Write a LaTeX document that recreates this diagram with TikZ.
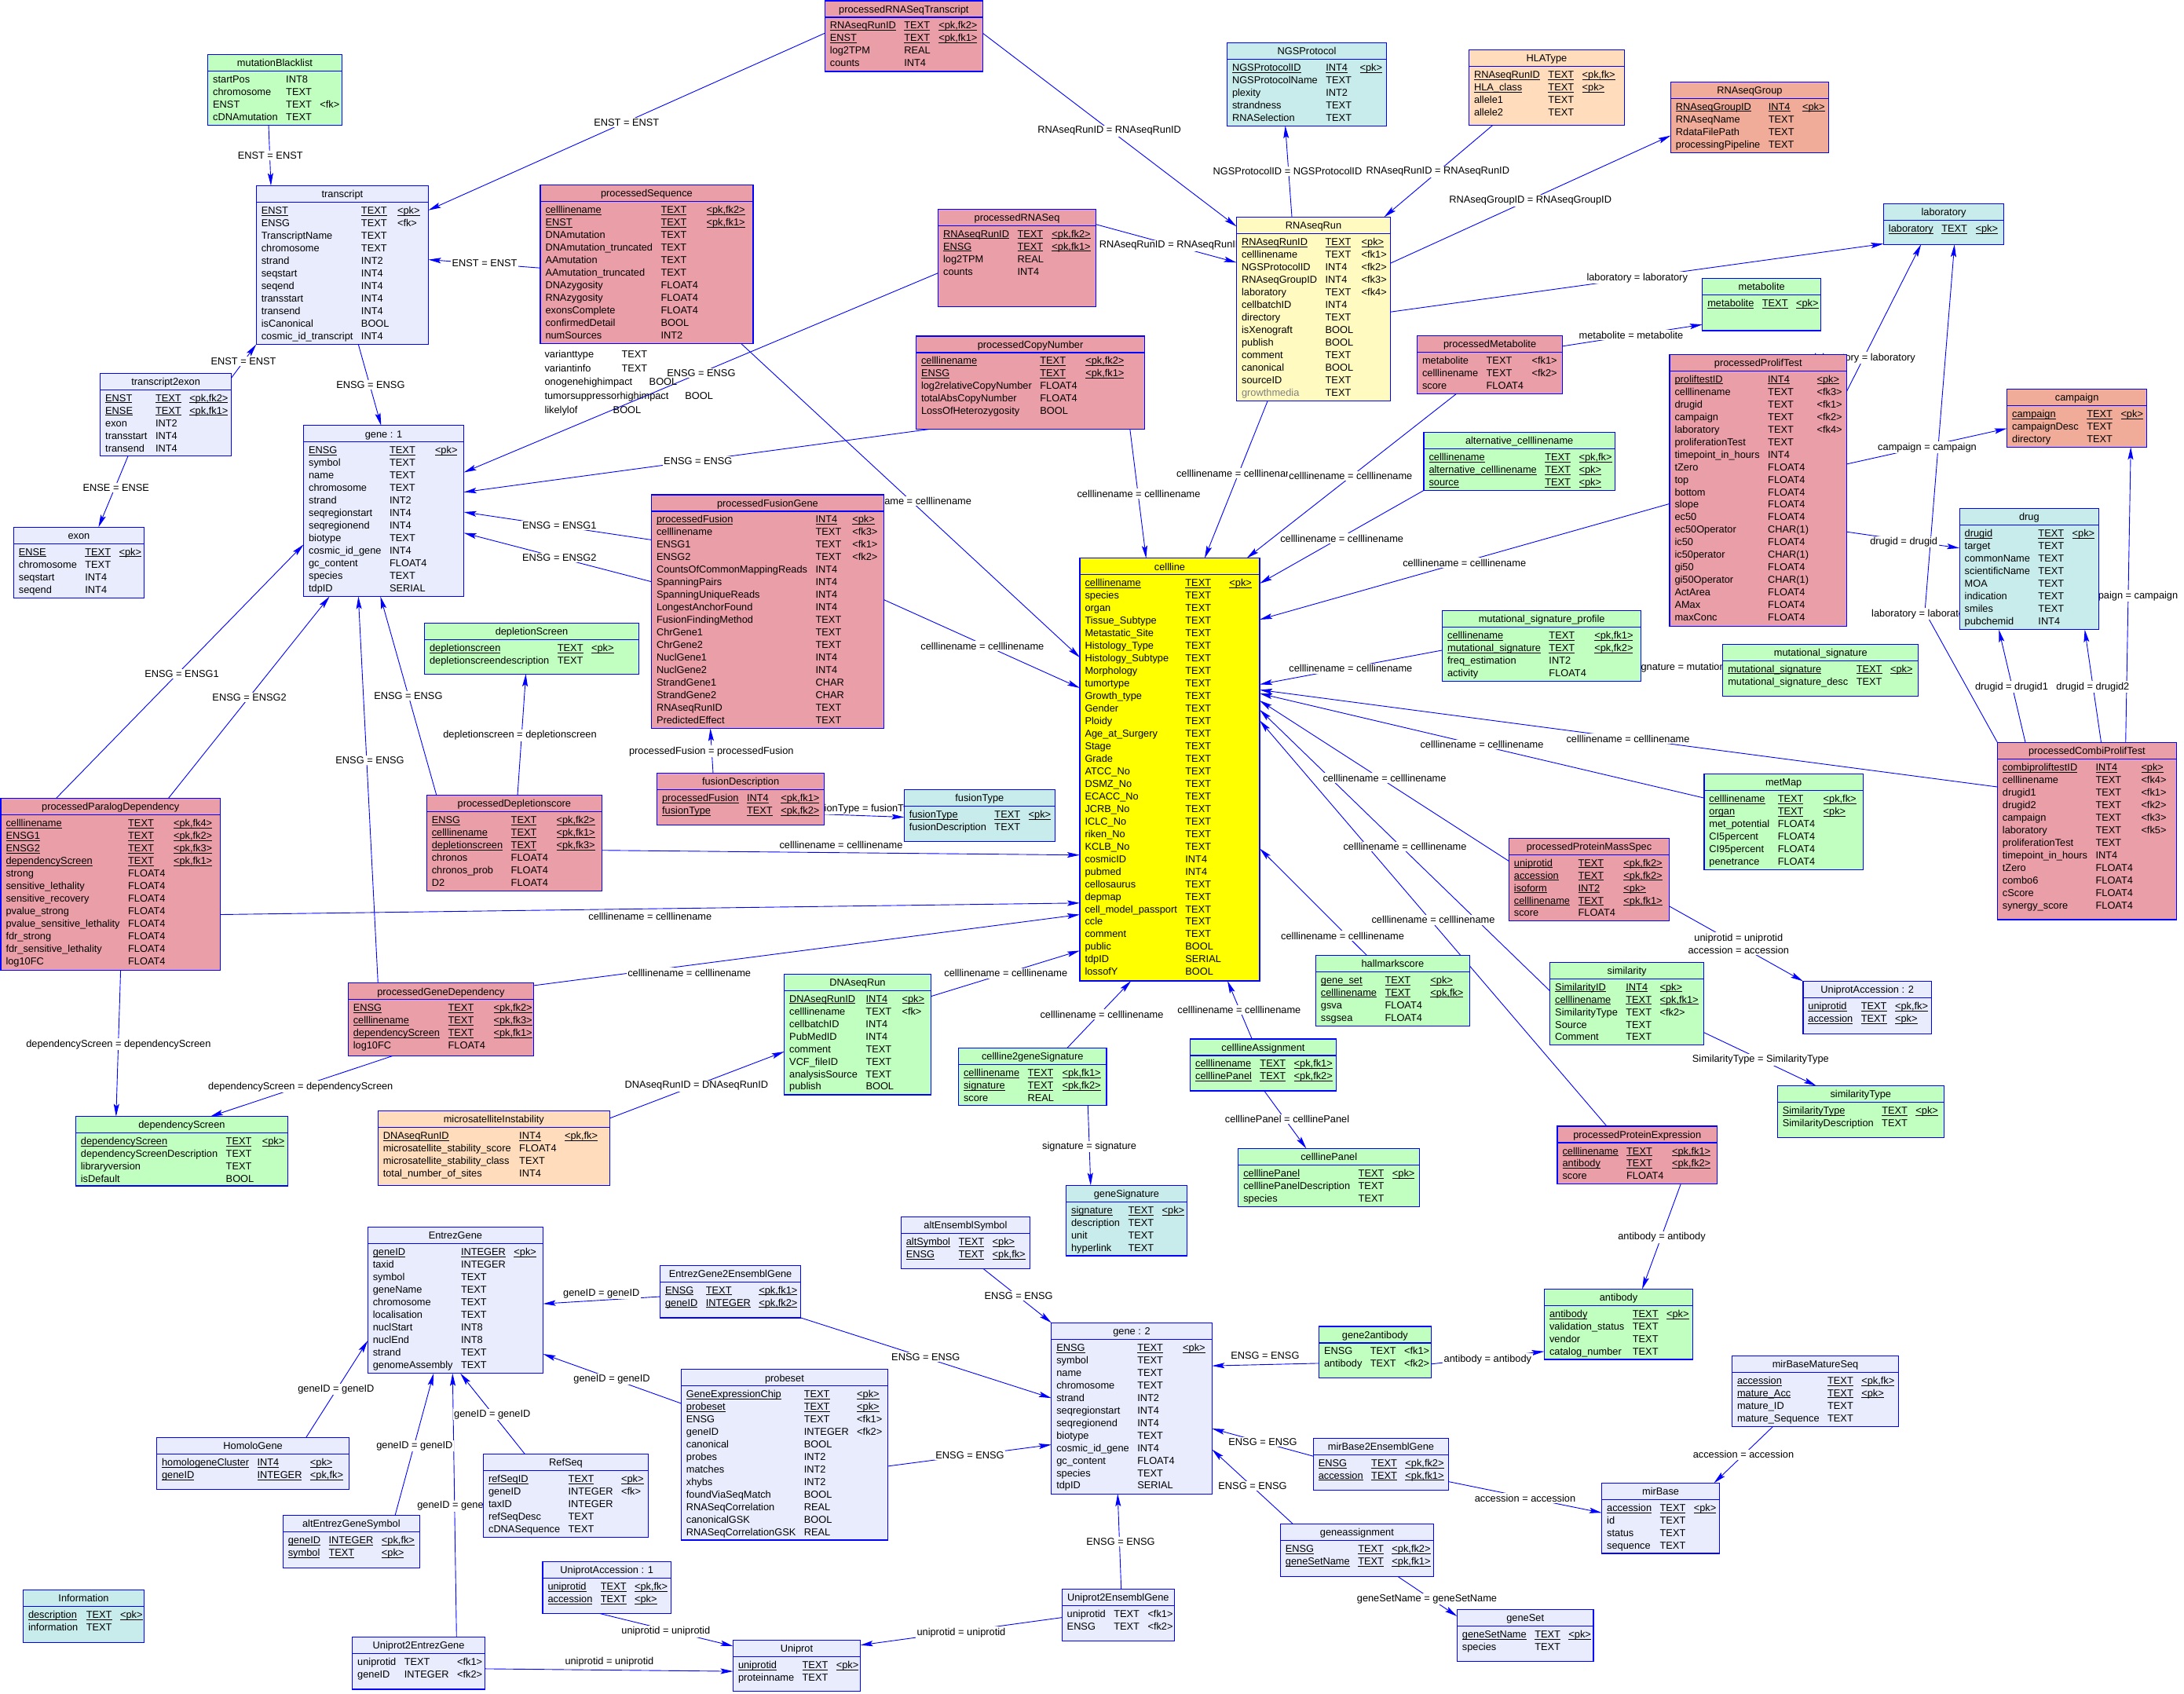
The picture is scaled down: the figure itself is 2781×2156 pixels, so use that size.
\documentclass[tikz,border=0pt]{standalone}
\usepackage{fontspec}
\setmainfont{Liberation Sans}
\usetikzlibrary{arrows.meta}
\definecolor{cLav}{RGB}{232,236,252}
\definecolor{cGrn}{RGB}{192,255,192}
\definecolor{cPnk}{RGB}{234,158,168}
\definecolor{cCyn}{RGB}{200,236,236}
\definecolor{cPch}{RGB}{255,220,188}
\definecolor{cSal}{RGB}{240,172,152}
\definecolor{cLYl}{RGB}{255,250,192}
\definecolor{cYel}{RGB}{255,255,0}
\definecolor{cBlu}{RGB}{0,0,255}
\pgfdeclarelayer{back}\pgfdeclarelayer{bg}\pgfdeclarelayer{lab}
\pgfsetlayers{back,bg,lab,main}
\newcommand\tfnt{\fontsize{12.8}{15.97}\selectfont}
\newcommand\uu[1]{\setbox0=\hbox{#1}\rlap{\rule[-2pt]{\wd0}{0.8pt}}\box0}
\newcommand\pkr[3]{\uu{#1}&\uu{#2}&\uu{#3}}
\newcommand\generows{\pkr{ENSG}{TEXT}{<pk>}\\symbol&TEXT&\\name&TEXT&\\chromosome&TEXT&\\strand&INT2&\\seqregionstart&INT4&\\seqregionend&INT4&\\biotype&TEXT&\\cosmic\_id\_gene&INT4&\\gc\_content&FLOAT4&\\species&TEXT&\\tdpID&SERIAL&}
\newcommand\mktbl[8]{%
 \node[tbox,fill=#6,minimum width={(#4-#2)*1pt},minimum height={(#5-#3)*1pt}] (#1) at (#2,#3) {};
 \draw[tline] ([yshift=-21pt]#1.north west) -- ([yshift=-21pt]#1.north east);
 \node[tfont,anchor=base] (#1-h) at ([yshift=-15.3pt]#1.north) {#7};
 \node[tfont,anchor=north west,inner sep=0pt] (#1-r) at ([xshift=6.3pt,yshift=-24.6pt]#1.north west) {\begin{tabular}{@{}l@{\hspace{10.5pt}}l@{\hspace{10.5pt}}l@{}}#8\end{tabular}};}
\newcommand\mklbl[4]{\node[lbl] (#1) at (#2,#3+4.6) {#4};}
\begin{document}
\begin{tikzpicture}[x=1pt,y=-1pt,
 tfont/.style={font=\tfnt},
 tbox/.style={draw=cBlu,line width=1.2pt,anchor=north west,outer sep=0pt,inner sep=0pt},
 tline/.style={draw=cBlu,line width=1.2pt},
 fk/.style={draw=cBlu,line width=0.9pt,-{Stealth[length=16pt,width=7pt,inset=3pt]}},
 lbl/.style={font=\tfnt,fill=white,inner sep=1.5pt,anchor=base},
 lbl2/.style={font=\tfnt,fill=white,inner sep=1.5pt,align=center,anchor=center}]
\useasboundingbox (0,0) rectangle (2781,2156);
\begin{pgfonlayer}{back}\fill[white] (0,0) rectangle (2781,2156);\end{pgfonlayer}
% ---------------- tables
\mktbl{mutBl}{264.7}{69.3}{435.3}{159.3}{cGrn}{mutationBlacklist}{startPos&INT8&\\chromosome&TEXT&\\ENST&TEXT&<fk>\\cDNAmutation&TEXT&}
\mktbl{transcript}{326.3}{236.5}{545.5}{438.5}{cLav}{transcript}{\pkr{ENST}{TEXT}{<pk>}\\ENSG&TEXT&<fk>\\TranscriptName&TEXT&\\chromosome&TEXT&\\strand&INT2&\\seqstart&INT4&\\seqend&INT4&\\transstart&INT4&\\transend&INT4&\\isCanonical&BOOL&\\cosmic\_id\_transcript&INT4&}
\mktbl{t2e}{127.7}{475.2}{294.6}{580.8}{cLav}{transcript2exon}{\pkr{ENST}{TEXT}{<pk,fk2>}\\\pkr{ENSE}{TEXT}{<pk,fk1>}\\exon&INT2&\\transstart&INT4&\\transend&INT4&}
\mktbl{exon}{17.4}{671.3}{183.5}{761.3}{cLav}{exon}{\pkr{ENSE}{TEXT}{<pk>}\\chromosome&TEXT&\\seqstart&INT4&\\seqend&INT4&}
\mktbl{gene1}{386.6}{541.8}{590.6}{759.5}{cLav}{gene : 1}{\generows}
\mktbl{pRST}{1050.4}{1}{1251.3}{90.9}{cPnk}{processedRNASeqTranscript}{\pkr{RNAseqRunID}{TEXT}{<pk,fk2>}\\\pkr{ENST}{TEXT}{<pk,fk1>}\\log2TPM&REAL&\\counts&INT4&}
\mktbl{pSeq}{688}{235.5}{958.9}{437.1}{cPnk}{processedSequence}{\pkr{celllinename}{TEXT}{<pk,fk2>}\\\pkr{ENST}{TEXT}{<pk,fk1>}\\DNAmutation&TEXT&\\DNAmutation\_truncated&TEXT&\\AAmutation&TEXT&\\AAmutation\_truncated&TEXT&\\DNAzygosity&FLOAT4&\\RNAzygosity&FLOAT4&\\exonsComplete&FLOAT4&\\confirmedDetail&BOOL&\\numSources&INT2&}
\mktbl{pRNASeq}{1194.6}{266.3}{1395.5}{390.3}{cPnk}{processedRNASeq}{\pkr{RNAseqRunID}{TEXT}{<pk,fk2>}\\\pkr{ENSG}{TEXT}{<pk,fk1>}\\log2TPM&REAL&\\counts&INT4&}
\mktbl{pCN}{1166.5}{427.9}{1457.6}{546.4}{cPnk}{processedCopyNumber}{\pkr{celllinename}{TEXT}{<pk,fk2>}\\\pkr{ENSG}{TEXT}{<pk,fk1>}\\log2relativeCopyNumber&FLOAT4&\\totalAbsCopyNumber&FLOAT4&\\LossOfHeterozygosity&BOOL&}
\mktbl{pFG}{829.5}{630}{1125.4}{927.5}{cPnk}{processedFusionGene}{\pkr{processedFusion}{INT4}{<pk>}\\celllinename&TEXT&<fk3>\\ENSG1&TEXT&<fk1>\\ENSG2&TEXT&<fk2>\\CountsOfCommonMappingReads&INT4&\\SpanningPairs&INT4&\\SpanningUniqueReads&INT4&\\LongestAnchorFound&INT4&\\FusionFindingMethod&TEXT&\\ChrGene1&TEXT&\\ChrGene2&TEXT&\\NuclGene1&INT4&\\NuclGene2&INT4&\\StrandGene1&CHAR&\\StrandGene2&CHAR&\\RNAseqRunID&TEXT&\\PredictedEffect&TEXT&}
\mktbl{NGS}{1562.5}{54.6}{1765.6}{160.2}{cCyn}{NGSProtocol}{\pkr{NGSProtocolID}{INT4}{<pk>}\\NGSProtocolName&TEXT&\\plexity&INT2&\\strandness&TEXT&\\RNASelection&TEXT&}
\mktbl{HLA}{1870.5}{63.4}{2068.3}{159.3}{cPch}{HLAType}{\pkr{RNAseqRunID}{TEXT}{<pk,fk>}\\\pkr{HLA\_class}{TEXT}{<pk>}\\allele1&TEXT&\\allele2&TEXT&}
\mktbl{RR}{1574.6}{276.4}{1770.5}{510.1}{cLYl}{RNAseqRun}{\pkr{RNAseqRunID}{TEXT}{<pk>}\\celllinename&TEXT&<fk1>\\NGSProtocolID&INT4&<fk2>\\RNAseqGroupID&INT4&<fk3>\\laboratory&TEXT&<fk4>\\cellbatchID&INT4&\\directory&TEXT&\\isXenograft&BOOL&\\publish&BOOL&\\comment&TEXT&\\canonical&BOOL&\\sourceID&TEXT&\\\textcolor{gray}{growthmedia}&TEXT&}
\mktbl{pMet}{1804.5}{427.5}{1989.7}{501.4}{cPnk}{processedMetabolite}{metabolite&TEXT&<fk1>\\celllinename&TEXT&<fk2>\\score&FLOAT4&}
\mktbl{altCL}{1813}{550.5}{2056.3}{624.4}{cGrn}{alternative\_celllinename}{\pkr{celllinename}{TEXT}{<pk,fk>}\\\pkr{alternative\_celllinename}{TEXT}{<pk>}\\\pkr{source}{TEXT}{<pk>}}
\mktbl{RNAseqGroup}{2127.4}{104.2}{2328.4}{194.2}{cSal}{RNAseqGroup}{\pkr{RNAseqGroupID}{INT4}{<pk>}\\RNAseqName&TEXT&\\RdataFilePath&TEXT&\\processingPipeline&TEXT&}
\mktbl{laboratory}{2398.4}{259.4}{2551.7}{311.3}{cCyn}{laboratory}{\pkr{laboratory}{TEXT}{<pk>}}
\mktbl{metabolite}{2167.8}{354.5}{2318.5}{421}{cGrn}{metabolite}{\pkr{metabolite}{TEXT}{<pk>}}
\mktbl{pPT}{2126}{451.3}{2351.5}{797.1}{cPnk}{processedProlifTest}{\pkr{proliftestID}{INT4}{<pk>}\\celllinename&TEXT&<fk3>\\drugid&TEXT&<fk1>\\campaign&TEXT&<fk2>\\laboratory&TEXT&<fk4>\\proliferationTest&TEXT&\\timepoint\_in\_hours&INT4&\\tZero&FLOAT4&\\top&FLOAT4&\\bottom&FLOAT4&\\slope&FLOAT4&\\ec50&FLOAT4&\\ec50Operator&CHAR(1)&\\ic50&FLOAT4&\\ic50perator&CHAR(1)&\\gi50&FLOAT4&\\gi50Operator&CHAR(1)&\\ActArea&FLOAT4&\\AMax&FLOAT4&\\maxConc&FLOAT4&}
\mktbl{campaign}{2555.6}{495.4}{2733.7}{569.3}{cSal}{campaign}{\pkr{campaign}{TEXT}{<pk>}\\campaignDesc&TEXT&\\directory&TEXT&}
\mktbl{drug}{2495.2}{647.4}{2672.4}{801.7}{cCyn}{drug}{\pkr{drugid}{TEXT}{<pk>}\\target&TEXT&\\commonName&TEXT&\\scientificName&TEXT&\\MOA&TEXT&\\indication&TEXT&\\smiles&TEXT&\\pubchemid&INT4&}
\mktbl{depl}{540.6}{793.5}{813.4}{858.2}{cGrn}{depletionScreen}{\pkr{depletionscreen}{TEXT}{<pk>}\\depletionscreendescription&TEXT&}
\mktbl{pPD}{1}{1016.6}{280.4}{1235.2}{cPnk}{processedParalogDependency}{\pkr{celllinename}{TEXT}{<pk,fk4>}\\\pkr{ENSG1}{TEXT}{<pk,fk2>}\\\pkr{ENSG2}{TEXT}{<pk,fk3>}\\\pkr{dependencyScreen}{TEXT}{<pk,fk1>}\\strong&FLOAT4&\\sensitive\_lethality&FLOAT4&\\sensitive\_recovery&FLOAT4&\\pvalue\_strong&FLOAT4&\\pvalue\_sensitive\_lethality&FLOAT4&\\fdr\_strong&FLOAT4&\\fdr\_sensitive\_lethality&FLOAT4&\\log10FC&FLOAT4&}
\mktbl{pDS}{543.3}{1012.5}{766.5}{1134.6}{cPnk}{processedDepletionscore}{\pkr{ENSG}{TEXT}{<pk,fk2>}\\\pkr{celllinename}{TEXT}{<pk,fk1>}\\\pkr{depletionscreen}{TEXT}{<pk,fk3>}\\chronos&FLOAT4&\\chronos\_prob&FLOAT4&\\D2&FLOAT4&}
\mktbl{pGD}{443.3}{1251.7}{679.5}{1344.5}{cPnk}{processedGeneDependency}{\pkr{ENSG}{TEXT}{<pk,fk2>}\\\pkr{celllinename}{TEXT}{<pk,fk3>}\\\pkr{dependencyScreen}{TEXT}{<pk,fk1>}\\log10FC&FLOAT4&}
\mktbl{depS}{96.4}{1421.6}{366.5}{1509.9}{cGrn}{dependencyScreen}{\pkr{dependencyScreen}{TEXT}{<pk>}\\dependencyScreenDescription&TEXT&\\libraryversion&TEXT&\\isDefault&BOOL&}
\mktbl{msi}{481.3}{1414.3}{776.3}{1509.4}{cPch}{microsatelliteInstability}{\pkr{DNAseqRunID}{INT4}{<pk,fk>}\\microsatellite\_stability\_score&FLOAT4&\\microsatellite\_stability\_class&TEXT&\\total\_number\_of\_sites&INT4&}
\mktbl{fD}{836.6}{984.5}{1049.6}{1050.1}{cPnk}{fusionDescription}{\pkr{processedFusion}{INT4}{<pk,fk1>}\\\pkr{fusionType}{TEXT}{<pk,fk2>}}
\mktbl{fT}{1151.3}{1005.6}{1343.3}{1071.3}{cCyn}{fusionType}{\pkr{fusionType}{TEXT}{<pk>}\\fusionDescription&TEXT&}
\mktbl{DNAseqRun}{998.7}{1240.2}{1185.3}{1394}{cGrn}{DNAseqRun}{\pkr{DNAseqRunID}{INT4}{<pk>}\\celllinename&TEXT&<fk>\\cellbatchID&INT4&\\PubMedID&INT4&\\comment&TEXT&\\VCF\_fileID&TEXT&\\analysisSource&TEXT&\\publish&BOOL&}
\mktbl{c2gS}{1220.5}{1334.4}{1409}{1407.8}{cGrn}{cellline2geneSignature}{\pkr{celllinename}{TEXT}{<pk,fk1>}\\\pkr{signature}{TEXT}{<pk,fk2>}\\score&REAL&}
\mktbl{cellline}{1375}{710.8}{1604}{1249}{cYel}{cellline}{\pkr{celllinename}{TEXT}{<pk>}\\species&TEXT&\\organ&TEXT&\\Tissue\_Subtype&TEXT&\\Metastatic\_Site&TEXT&\\Histology\_Type&TEXT&\\Histology\_Subtype&TEXT&\\Morphology&TEXT&\\tumortype&TEXT&\\Growth\_type&TEXT&\\Gender&TEXT&\\Ploidy&TEXT&\\Age\_at\_Surgery&TEXT&\\Stage&TEXT&\\Grade&TEXT&\\ATCC\_No&TEXT&\\DSMZ\_No&TEXT&\\ECACC\_No&TEXT&\\JCRB\_No&TEXT&\\ICLC\_No&TEXT&\\riken\_No&TEXT&\\KCLB\_No&TEXT&\\cosmicID&INT4&\\pubmed&INT4&\\cellosaurus&TEXT&\\depmap&TEXT&\\cell\_model\_passport&TEXT&\\ccle&TEXT&\\comment&TEXT&\\public&BOOL&\\tdpID&SERIAL&\\lossofY&BOOL&}
\mktbl{mSP}{1836.6}{777.4}{2089.7}{867.4}{cGrn}{mutational\_signature\_profile}{\pkr{celllinename}{TEXT}{<pk,fk1>}\\\pkr{mutational\_signature}{TEXT}{<pk,fk2>}\\freq\_estimation&INT2&\\activity&FLOAT4&}
\mktbl{pPMS}{1921.4}{1067.1}{2125.6}{1172.3}{cPnk}{processedProteinMassSpec}{\pkr{uniprotid}{TEXT}{<pk,fk2>}\\\pkr{accession}{TEXT}{<pk,fk2>}\\\pkr{isoform}{INT2}{<pk>}\\\pkr{celllinename}{TEXT}{<pk,fk1>}\\score&FLOAT4&}
\mktbl{hallmark}{1675.4}{1216.3}{1871.4}{1306.3}{cGrn}{hallmarkscore}{\pkr{gene\_set}{TEXT}{<pk>}\\\pkr{celllinename}{TEXT}{<pk,fk>}\\gsva&FLOAT4&\\ssgsea&FLOAT4&}
\mktbl{similarity}{1973.7}{1225.1}{2169.5}{1330.2}{cGrn}{similarity}{\pkr{SimilarityID}{INT4}{<pk>}\\\pkr{celllinename}{TEXT}{<pk,fk1>}\\SimilarityType&TEXT&<fk2>\\Source&TEXT&\\Comment&TEXT&}
\mktbl{cA}{1515.6}{1322.9}{1701.3}{1389}{cGrn}{celllineAssignment}{\pkr{celllinename}{TEXT}{<pk,fk1>}\\\pkr{celllinePanel}{TEXT}{<pk,fk2>}}
\mktbl{mS}{2193.8}{820.1}{2442.7}{886.2}{cGrn}{mutational\_signature}{\pkr{mutational\_signature}{TEXT}{<pk>}\\mutational\_signature\_desc&TEXT&}
\mktbl{metMap}{2169.9}{985.4}{2372.3}{1107.1}{cGrn}{metMap}{\pkr{celllinename}{TEXT}{<pk,fk>}\\\pkr{organ}{TEXT}{<pk>}\\met\_potential&FLOAT4&\\CI5percent&FLOAT4&\\CI95percent&FLOAT4&\\penetrance&FLOAT4&}
\mktbl{pCPT}{2543.4}{945.4}{2771.4}{1170.9}{cPnk}{processedCombiProlifTest}{\pkr{combiproliftestID}{INT4}{<pk>}\\celllinename&TEXT&<fk4>\\drugid1&TEXT&<fk1>\\drugid2&TEXT&<fk2>\\campaign&TEXT&<fk3>\\laboratory&TEXT&<fk5>\\proliferationTest&TEXT&\\timepoint\_in\_hours&INT4&\\tZero&FLOAT4&\\combo6&FLOAT4&\\cScore&FLOAT4&\\synergy\_score&FLOAT4&}
\mktbl{UA2}{2295.9}{1249.4}{2459.6}{1316.4}{cLav}{UniprotAccession : 2}{\pkr{uniprotid}{TEXT}{<pk,fk>}\\\pkr{accession}{TEXT}{<pk>}}
\mktbl{simType}{2263.3}{1382.6}{2475.2}{1448.2}{cGrn}{similarityType}{\pkr{SimilarityType}{TEXT}{<pk>}\\SimilarityDescription&TEXT&}
\mktbl{EntrezGene}{468.3}{1562.4}{691.5}{1748.7}{cLav}{EntrezGene}{\pkr{geneID}{INTEGER}{<pk>}\\taxid&INTEGER&\\symbol&TEXT&\\geneName&TEXT&\\chromosome&TEXT&\\localisation&TEXT&\\nuclStart&INT8&\\nuclEnd&INT8&\\strand&TEXT&\\genomeAssembly&TEXT&}
\mktbl{HomoloGene}{199.6}{1830.4}{444.6}{1896.2}{cLav}{HomoloGene}{\pkr{homologeneCluster}{INT4}{<pk>}\\\pkr{geneID}{INTEGER}{<pk,fk>}}
\mktbl{altEGS}{360.3}{1929.5}{534.4}{1996.2}{cLav}{altEntrezGeneSymbol}{\pkr{geneID}{INTEGER}{<pk,fk>}\\\pkr{symbol}{TEXT}{<pk>}}
\mktbl{Information}{29.5}{2024.5}{183.5}{2091.1}{cCyn}{Information}{\pkr{description}{TEXT}{<pk>}\\information&TEXT&}
\mktbl{U2EG}{448.7}{2084.3}{617.4}{2151}{cLav}{Uniprot2EntrezGene}{uniprotid&TEXT&<fk1>\\geneID&INTEGER&<fk2>}
\mktbl{RefSeq}{615.6}{1851.4}{825.4}{1957.4}{cLav}{RefSeq}{\pkr{refSeqID}{TEXT}{<pk>}\\geneID&INTEGER&<fk>\\taxID&INTEGER&\\refSeqDesc&TEXT&\\cDNASequence&TEXT&}
\mktbl{altES}{1147.3}{1549.6}{1311.6}{1615.3}{cLav}{altEnsemblSymbol}{\pkr{altSymbol}{TEXT}{<pk>}\\\pkr{ENSG}{TEXT}{<pk,fk>}}
\mktbl{EG2EG}{840.6}{1611.2}{1019.6}{1677.9}{cLav}{EntrezGene2EnsemblGene}{\pkr{ENSG}{TEXT}{<pk,fk1>}\\\pkr{geneID}{INTEGER}{<pk,fk2>}}
\mktbl{probeset}{867.4}{1743.7}{1130.4}{1961}{cLav}{probeset}{\pkr{GeneExpressionChip}{TEXT}{<pk>}\\\pkr{probeset}{TEXT}{<pk>}\\ENSG&TEXT&<fk1>\\geneID&INTEGER&<fk2>\\canonical&BOOL&\\probes&INT2&\\matches&INT2&\\xhybs&INT2&\\foundViaSeqMatch&BOOL&\\RNASeqCorrelation&REAL&\\canonicalGSK&BOOL&\\RNASeqCorrelationGSK&REAL&}
\mktbl{UA1}{691}{1988.4}{854.5}{2054.2}{cLav}{UniprotAccession : 1}{\pkr{uniprotid}{TEXT}{<pk,fk>}\\\pkr{accession}{TEXT}{<pk>}}
\mktbl{Uniprot}{933.5}{2088.4}{1095.5}{2153.7}{cLav}{Uniprot}{\pkr{uniprotid}{TEXT}{<pk>}\\proteinname&TEXT&}
\mktbl{gene2}{1338.8}{1684.3}{1543.3}{1902.1}{cLav}{gene : 2}{\generows}
\mktbl{U2E}{1352.2}{2023.6}{1495.5}{2089.8}{cLav}{Uniprot2EnsemblGene}{uniprotid&TEXT&<fk1>\\ENSG&TEXT&<fk2>}
\mktbl{geneSig}{1357.6}{1509.4}{1511.2}{1598.9}{cCyn}{geneSignature}{\pkr{signature}{TEXT}{<pk>}\\description&TEXT&\\unit&TEXT&\\hyperlink&TEXT&}
\mktbl{cPanel}{1576.8}{1462.4}{1807.6}{1536.3}{cGrn}{celllinePanel}{\pkr{celllinePanel}{TEXT}{<pk>}\\celllinePanelDescription&TEXT&\\species&TEXT&}
\mktbl{pPE}{1983}{1434}{2186.4}{1507.1}{cPnk}{processedProteinExpression}{\pkr{celllinename}{TEXT}{<pk,fk1>}\\\pkr{antibody}{TEXT}{<pk,fk2>}\\score&FLOAT4&}
\mktbl{antibody}{1966.5}{1641.4}{2155.6}{1730.9}{cGrn}{antibody}{\pkr{antibody}{TEXT}{<pk>}\\validation\_status&TEXT&\\vendor&TEXT&\\catalog\_number&TEXT&}
\mktbl{g2a}{1679.5}{1688.9}{1822.3}{1754.2}{cGrn}{gene2antibody}{ENSG&TEXT&<fk1>\\antibody&TEXT&<fk2>}
\mktbl{m2E}{1672.3}{1831.3}{1844.6}{1897.1}{cLav}{mirBase2EnsemblGene}{\pkr{ENSG}{TEXT}{<pk,fk2>}\\\pkr{accession}{TEXT}{<pk,fk1>}}
\mktbl{ga}{1630.4}{1940.5}{1825.4}{2007.1}{cLav}{geneassignment}{\pkr{ENSG}{TEXT}{<pk,fk2>}\\\pkr{geneSetName}{TEXT}{<pk,fk1>}}
\mktbl{geneSet}{1855.4}{2049.6}{2029}{2115.8}{cLav}{geneSet}{\pkr{geneSetName}{TEXT}{<pk>}\\species&TEXT&}
\mktbl{mirBase}{2039.7}{1888.4}{2189.5}{1977.9}{cLav}{mirBase}{\pkr{accession}{TEXT}{<pk>}\\id&TEXT&\\status&TEXT&\\sequence&TEXT&}
\mktbl{mBMS}{2205.5}{1726.3}{2417.5}{1816.3}{cLav}{mirBaseMatureSeq}{\pkr{accession}{TEXT}{<pk,fk>}\\\pkr{mature\_Acc}{TEXT}{<pk>}\\mature\_ID&TEXT&\\mature\_Sequence&TEXT&}
% overflow text under processedSequence
\node[tfont,anchor=base west] (ps1) at (690,455) {varianttype};
\node[tfont,anchor=base west] (ps1t) at (788,455) {TEXT};
\node[tfont,anchor=base west] (ps2) at (690,473) {variantinfo};
\node[tfont,anchor=base west] (ps2t) at (788,473) {TEXT};
\node[tfont,anchor=base west] (ps3) at (690,490.8) {onogenehighimpact};
\node[tfont,anchor=base west] (ps3t) at (823.2,490.8) {BOOL};
\node[tfont,anchor=base west] (ps4) at (690,508.8) {tumorsuppressorhighimpact};
\node[tfont,anchor=base west] (ps4t) at (868.8,508.8) {BOOL};
\node[tfont,anchor=base west] (ps5) at (690,526.7) {likelylof};
\node[tfont,anchor=base west] (ps5t) at (777.2,526.7) {BOOL};
% ---------------- connectors
\begin{pgfonlayer}{bg}
\draw[fk] (mutBl.south -| 342,0) -- (transcript.north -| 345,0);
\draw[fk] (pRST.west |- 0,42.2) -- (transcript.east |- 0,267.7);
\draw[fk] (pSeq.west |- 0,341.2) -- (transcript.east |- 0,330.6);
\draw[fk] (t2e.east |- 0,481.2) -- (transcript.south west);
\draw[fk] (transcript.south -| 456.3,0) -- (gene1.north -| 485.3,0);
\draw[fk] (t2e.south -| 163,0) -- (exon.north -| 125.4,0);
\draw[fk] (pRNASeq.west |- 0,347.6) -- (gene1.east |- 0,601.5);
\draw[fk] (pCN.south -| 1184.4,0) -- (gene1.east |- 0,626.7);
\draw[fk] (pFG.west |- 0,687.4) -- (gene1.east |- 0,652);
\draw[fk] (pFG.west |- 0,740.7) -- (gene1.east |- 0,678.6);
\draw[fk] (pPD.north -| 71.4,0) -- (gene1.west |- 0,693.3);
\draw[fk] (pPD.north -| 214.3,0) -- (gene1.south -| 419.6,0);
\draw[fk] (pGD.north -| 481.3,0) -- (gene1.south -| 456.3,0);
\draw[fk] (pDS.north -| 555.8,0) -- (gene1.south -| 484.4,0);
\draw[fk] (pDS.north -| 659,0) -- (depl.south -| 669.6,0);
\draw[fk] (pPD.south -| 153.6,0) -- (depS.north -| 147.8,0);
\draw[fk] (pGD.south -| 500,0) -- (depS.north -| 267.9,0);
\draw[fk] (pPD.east |- 0,1164.5) -- (cellline.west |- 0,1149.8);
\draw[fk] (pDS.east |- 0,1082.7) -- (cellline.west |- 0,1088.7);
\draw[fk] (pGD.east |- 0,1254.9) -- (cellline.west |- 0,1164.5);
\draw[fk] (DNAseqRun.east |- 0,1268.7) -- (cellline.west |- 0,1210.4);
\draw[fk] (msi.east |- 0,1423.9) -- (DNAseqRun.west |- 0,1339);
\draw[fk] (pFG.east |- 0,763.6) -- (cellline.west |- 0,876);
\draw[fk] (fD.north -| 908,0) -- (pFG.south -| 904.5,0);
\draw[fk] (fD.east |- 0,1036.8) -- (fT.west |- 0,1040.5);
\draw[fk] (pSeq.south -| 943.3,0) -- (cellline.west |- 0,837.1);
\draw[fk] (pRST.east |- 0,42.2) -- (RR.west |- 0,288.4);
\draw[fk] (pRNASeq.east |- 0,285.7) -- (RR.west |- 0,334.3);
\draw[fk] (RR.north -| 1645,0) -- (NGS.south -| 1636.6,0);
\draw[fk] (HLA.south -| 1900.9,0) -- (RR.north -| 1762.5,0);
\draw[fk] (RR.east |- 0,335.2) -- (RNAseqGroup.west |- 0,172.6);
\draw[fk] (RR.east |- 0,397.2) -- (laboratory.west |- 0,310.4);
\draw[fk] (pMet.east |- 0,440.8) -- (metabolite.west |- 0,413.2);
\draw[fk] (RR.south -| 1614.3,0) -- (cellline.north -| 1533.9,0);
\draw[fk] (pCN.south -| 1438.8,0) -- (cellline.north -| 1459.4,0);
\draw[fk] (pMet.south -| 1854.5,0) -- (cellline.north -| 1587.5,0);
\draw[fk] (altCL.south west) -- (cellline.east |- 0,743);
\draw[fk] (pPT.west |- 0,641.4) -- (cellline.east |- 0,788.9);
\draw[fk] (pPT.east |- 0,498.2) -- (laboratory.south -| 2446.1,0);
\draw[fk] (pPT.east |- 0,590.9) -- (campaign.west |- 0,545.5);
\draw[fk] (pPT.east |- 0,677.2) -- (drug.west |- 0,697.9);
\coordinate (k42) at (2451,779);
\draw[fk] (pCPT.north west) -- (k42) -- (laboratory.south -| 2488.7,0);
\draw[fk] (pCPT.north -| 2579,0) -- (drug.south -| 2545.2,0);
\draw[fk] (pCPT.north -| 2675.5,0) -- (drug.south -| 2654.6,0);
\draw[fk] (pCPT.north -| 2706.7,0) -- (campaign.south -| 2713.2,0);
\draw[fk] (mSP.west |- 0,827.9) -- (cellline.east |- 0,871.5);
\draw[fk] (pCPT.west |- 0,1002) -- (cellline.east |- 0,878.4);
\draw[fk] (metMap.west |- 0,1016.1) -- (cellline.east |- 0,883);
\draw[fk] (pPMS.west |- 0,1096.5) -- (cellline.east |- 0,892);
\draw[fk] (similarity.west |- 0,1261.8) -- (cellline.east |- 0,903.7);
\draw[fk] (pPE.north -| 2046,0) -- (cellline.east |- 0,917.4);
\draw[fk] (hallmark.north -| 1740.2,0) -- (cellline.east |- 0,1080.4);
\draw[fk] (c2gS.north -| 1358.9,0) -- (cellline.south -| 1440.2,0);
\draw[fk] (cA.north -| 1594.2,0) -- (cellline.south -| 1563,0);
\draw[fk] (pPMS.east |- 0,1153.9) -- (UA2.north west);
\draw[fk] (similarity.east |- 0,1314.6) -- (simType.north -| 2312.8,0);
\draw[fk] (cA.south -| 1609.8,0) -- (cPanel.north -| 1663.4,0);
\draw[fk] (c2gS.south -| 1385.3,0) -- (geneSig.north -| 1388.8,0);
\draw[fk] (pPE.south -| 2140.4,0) -- (antibody.north -| 2091,0);
\draw[fk] (g2a.east |- 0,1736.8) -- (antibody.west |- 0,1720.8);
\draw[fk] (g2a.west |- 0,1735.9) -- (gene2.east |- 0,1739.1);
\draw[fk] (m2E.west |- 0,1854.2) -- (gene2.east |- 0,1819);
\draw[fk] (ga.north -| 1646.4,0) -- (gene2.east |- 0,1845.5);
\draw[fk] (m2E.east |- 0,1886.6) -- (mirBase.west |- 0,1926.3);
\draw[fk] (mBMS.south -| 2257.7,0) -- (mirBase.north -| 2182.5,0);
\draw[fk] (ga.south -| 1779.5,0) -- (geneSet.west |- 0,2058);
\draw[fk] (U2E.north -| 1427.7,0) -- (gene2.south -| 1423.2,0);
\draw[fk] (U2E.west |- 0,2059.6) -- (Uniprot.east |- 0,2094.8);
\draw[fk] (UA1.south -| 762.5,0) -- (Uniprot.west |- 0,2096);
\draw[fk] (U2EG.east |- 0,2124.9) -- (Uniprot.west |- 0,2128.1);
\draw[fk] (U2EG.north -| 581.3,0) -- (EntrezGene.south -| 576.3,0);
\draw[fk] (altEGS.north -| 503.1,0) -- (EntrezGene.south -| 552.2,0);
\draw[fk] (HomoloGene.north -| 389.7,0) -- (EntrezGene.west |- 0,1707.1);
\draw[fk] (RefSeq.north -| 668.3,0) -- (EntrezGene.south -| 586.2,0);
\draw[fk] (EG2EG.west |- 0,1651) -- (EntrezGene.east |- 0,1660.1);
\draw[fk] (probeset.west |- 0,1787) -- (EntrezGene.east |- 0,1724);
\draw[fk] (EG2EG.south east) -- (gene2.west |- 0,1780.2);
\draw[fk] (probeset.east |- 0,1866.9) -- (gene2.west |- 0,1839.5);
\draw[fk] (altES.south -| 1251.8,0) -- (gene2.north west);
\draw[fk] (mSP.east |- 0,848.6) -- (mS.west |- 0,848.6);
\end{pgfonlayer}
% ---------------- labels
\begin{pgfonlayer}{lab}
\mklbl{l1}{344.2}{197.4}{ENST = ENST}
\mklbl{l2}{797.8}{156.1}{ENST = ENST}
\mklbl{l3}{617}{335.2}{ENST = ENST}
\mklbl{l4}{310}{460.1}{ENST = ENST}
\mklbl{l5}{471.9}{489.9}{ENSG = ENSG}
\mklbl{l6}{147.8}{621.2}{ENSE = ENSE}
\mklbl{l7}{892.9}{475.2}{ENSG = ENSG}
\mklbl{l8}{888.8}{586.8}{ENSG = ENSG}
\mklbl{l9}{712.3}{669}{ENSG = ENSG1}
\mklbl{l10}{712.3}{709.8}{ENSG = ENSG2}
\mklbl{l11}{231.5}{857.7}{ENSG = ENSG1}
\mklbl{l12}{317.6}{888}{ENSG = ENSG2}
\mklbl{l13}{471}{967.9}{ENSG = ENSG}
\mklbl{l14}{519.9}{886.2}{ENSG = ENSG}
\mklbl{l15}{662}{935.3}{depletionscreen = depletionscreen}
\mklbl{l16}{150.9}{1328.4}{dependencyScreen = dependencyScreen}
\mklbl{l17}{382.8}{1382.5}{dependencyScreen = dependencyScreen}
\mklbl{l18}{827.8}{1167.2}{celllinename = celllinename}
\mklbl{l19}{1071}{1075.8}{celllinename = celllinename}
\mklbl{l20}{877.7}{1238.4}{celllinename = celllinename}
\mklbl{l21}{1280.8}{1239.3}{celllinename = celllinename}
\mklbl{l22}{886.9}{1381.2}{DNAseqRunID = DNAseqRunID}
\mklbl{l23}{1250.9}{822.4}{celllinename = celllinename}
\mklbl{l24}{905.8}{955.5}{processedFusion = processedFusion}
\mklbl{l25}{1101.8}{1028.6}{fusionType = fusionType}
\mklbl{l26}{1158.5}{638.2}{celllinename = celllinename}
\mklbl{l27}{1412.7}{165.3}{RNAseqRunID = RNAseqRunID}
\mklbl{l28}{1491}{311.3}{RNAseqRunID = RNAseqRunID}
\mklbl{l29}{1639.5}{218.1}{NGSProtocolID = NGSProtocolID}
\mklbl{l30}{1830.8}{217.2}{RNAseqRunID = RNAseqRunID}
\mklbl{l31}{1948.7}{253.9}{RNAseqGroupID = RNAseqGroupID}
\mklbl{l32}{2084.7}{352.6}{laboratory = laboratory}
\mklbl{l33}{2077}{426.6}{metabolite = metabolite}
\mklbl{l34}{1576.5}{602.4}{celllinename = celllinename}
\mklbl{l35}{1450}{628.6}{celllinename = celllinename}
\mklbl{l36}{1719.9}{606.1}{celllinename = celllinename}
\mklbl{l37}{1708.7}{685.5}{celllinename = celllinename}
\mklbl{l38}{1864.7}{716.5}{celllinename = celllinename}
\mklbl{l39}{2374.6}{454.5}{laboratory = laboratory}
\mklbl{l40}{2454}{568.4}{campaign = campaign}
\mklbl{l41}{2424.2}{688.7}{drugid = drugid}
\mklbl{l42}{2447.4}{780.6}{laboratory = laboratory}
\mklbl{l43}{2561.5}{873.4}{drugid = drugid1}
\mklbl{l44}{2664.9}{873.4}{drugid = drugid2}
\mklbl{l45}{2710.4}{757.6}{campaign = campaign}
\mklbl{l46}{1719.9}{851.3}{celllinename = celllinename}
\mklbl{l47}{2073}{940.4}{celllinename = celllinename}
\mklbl{l48}{1887}{948.2}{celllinename = celllinename}
\mklbl{l49}{1763}{990.4}{celllinename = celllinename}
\mklbl{l50}{1789}{1078.1}{celllinename = celllinename}
\mklbl{l51}{1825}{1171.3}{celllinename = celllinename}
\mklbl{l52}{1709.6}{1191.5}{celllinename = celllinename}
\mklbl{l53}{1403}{1291.6}{celllinename = celllinename}
\mklbl{l54}{1577.9}{1285.7}{celllinename = celllinename}
\node[lbl2] (l55) at (2213.8,1201.6) {uniprotid = uniprotid\\accession = accession};
\mklbl{l56}{2241.8}{1348.1}{SimilarityType = SimilarityType}
\mklbl{l57}{1639}{1424.8}{celllinePanel = celllinePanel}
\mklbl{l58}{1387.1}{1458.7}{signature = signature}
\mklbl{l59}{2116}{1574.2}{antibody = antibody}
\mklbl{l60}{1894.4}{1729.5}{antibody = antibody}
\mklbl{l61}{1610.9}{1725.8}{ENSG = ENSG}
\mklbl{l62}{1608}{1835.9}{ENSG = ENSG}
\mklbl{l63}{1595}{1892.1}{ENSG = ENSG}
\mklbl{l64}{1942}{1907.6}{accession = accession}
\mklbl{l65}{2220}{1852.3}{accession = accession}
\mklbl{l66}{1817}{2034.5}{geneSetName = geneSetName}
\mklbl{l67}{1427}{1962.8}{ENSG = ENSG}
\mklbl{l68}{1223.9}{2077.4}{uniprotid = uniprotid}
\mklbl{l69}{847.8}{2076.1}{uniprotid = uniprotid}
\mklbl{l70}{775.9}{2115.3}{uniprotid = uniprotid}
\mklbl{l71}{579.9}{1916.3}{geneID = geneID}
\mklbl{l72}{527.9}{1839.5}{geneID = geneID}
\mklbl{l73}{427.9}{1767.4}{geneID = geneID}
\mklbl{l74}{626.8}{1799.4}{geneID = geneID}
\mklbl{l75}{765.8}{1645.5}{geneID = geneID}
\mklbl{l76}{779}{1754.6}{geneID = geneID}
\mklbl{l77}{1178.8}{1728.1}{ENSG = ENSG}
\mklbl{l78}{1235}{1852.8}{ENSG = ENSG}
\mklbl{l79}{1297.1}{1650}{ENSG = ENSG}
\mklbl{l80}{2140.3}{848.6}{mutational\_signature = mutational\_signature}
\end{pgfonlayer}
\end{tikzpicture}
\end{document}
